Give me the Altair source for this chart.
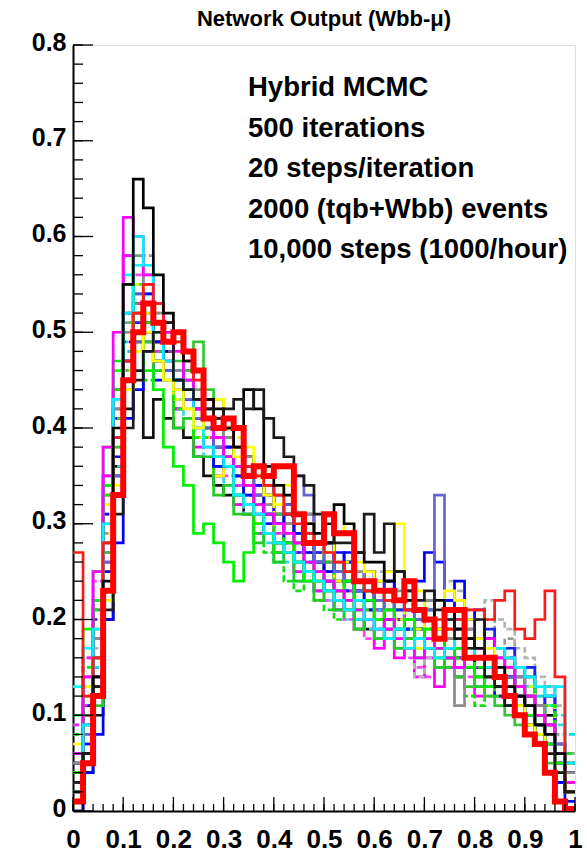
import altair as alt
import pandas as pd

# ---------------- data (50 bins of width 0.02 on [0,1]) ----------------
bin_width = 0.02

black1 = [0.02,0.06,0.14,0.24,0.40,0.55,0.66,0.63,0.56,0.52, 0.50,0.47,0.46,0.43,0.42,0.40,0.38,0.44,0.42,0.36, 0.34,0.33,0.31,0.30,0.29,0.28,0.32,0.30,0.27,0.26, 0.26,0.24,0.25,0.22,0.21,0.20,0.22,0.21,0.19,0.18, 0.17,0.16,0.15,0.13,0.12,0.11,0.09,0.08,0.06,0.02]
gray1 = [0.05,0.10,0.18,0.30,0.42,0.50,0.58,0.55,0.52,0.50, 0.46,0.48,0.44,0.42,0.43,0.39,0.36,0.37,0.34,0.32, 0.33,0.30,0.29,0.31,0.28,0.27,0.26,0.24,0.25,0.23, 0.22,0.21,0.23,0.24,0.20,0.22,0.19,0.18,0.11,0.19, 0.18,0.16,0.17,0.15,0.14,0.12,0.11,0.09,0.07,0.04]
blue1 = [0.01,0.07,0.13,0.25,0.37,0.47,0.50,0.54,0.49,0.46, 0.45,0.43,0.42,0.40,0.36,0.38,0.35,0.33,0.34,0.31, 0.30,0.31,0.29,0.27,0.26,0.25,0.27,0.24,0.23,0.22, 0.24,0.25,0.22,0.21,0.24,0.27,0.26,0.22,0.24,0.20, 0.21,0.18,0.15,0.14,0.12,0.10,0.09,0.07,0.03,0.01]
slate1 = [0.03,0.08,0.16,0.26,0.35,0.44,0.49,0.48,0.47,0.46, 0.44,0.43,0.41,0.40,0.38,0.37,0.36,0.35,0.33,0.34, 0.33,0.31,0.35,0.33,0.26,0.27,0.25,0.24,0.23,0.23, 0.22,0.21,0.22,0.21,0.20,0.21,0.33,0.20,0.19,0.18, 0.17,0.16,0.15,0.14,0.13,0.12,0.10,0.09,0.07,0.03]
green1 = [0.04,0.12,0.22,0.34,0.47,0.55,0.50,0.46,0.44,0.38, 0.36,0.34,0.29,0.30,0.28,0.26,0.24,0.27,0.30,0.29, 0.27,0.28,0.26,0.24,0.25,0.23,0.22,0.24,0.21,0.22, 0.20,0.21,0.19,0.20,0.18,0.19,0.17,0.16,0.17,0.15, 0.14,0.13,0.14,0.12,0.11,0.10,0.08,0.07,0.05,0.02]
magenta1 = [0.06,0.14,0.25,0.38,0.50,0.62,0.60,0.56,0.53,0.50, 0.48,0.45,0.42,0.41,0.39,0.37,0.36,0.34,0.32,0.31, 0.30,0.29,0.28,0.26,0.25,0.24,0.23,0.22,0.21,0.20, 0.19,0.20,0.18,0.17,0.16,0.18,0.17,0.16,0.15,0.16, 0.17,0.18,0.16,0.15,0.13,0.12,0.10,0.09,0.06,0.03]
cyan1 = [0.02,0.09,0.19,0.30,0.43,0.52,0.60,0.57,0.50,0.47, 0.45,0.44,0.40,0.38,0.37,0.36,0.33,0.32,0.31,0.29, 0.28,0.27,0.26,0.25,0.24,0.23,0.22,0.21,0.22,0.20, 0.19,0.18,0.19,0.17,0.18,0.17,0.16,0.17,0.18,0.17, 0.16,0.15,0.17,0.16,0.15,0.14,0.13,0.12,0.13,0.05]
yellow1 = [0.01,0.05,0.12,0.22,0.34,0.44,0.48,0.50,0.47,0.45, 0.44,0.42,0.40,0.41,0.43,0.40,0.37,0.38,0.35,0.33, 0.32,0.34,0.31,0.30,0.28,0.27,0.29,0.30,0.26,0.25, 0.24,0.25,0.30,0.22,0.23,0.20,0.19,0.23,0.22,0.20, 0.18,0.17,0.15,0.13,0.11,0.09,0.08,0.06,0.04,0.02]
green2 = [0.03,0.07,0.14,0.27,0.38,0.46,0.53,0.49,0.48,0.49, 0.47,0.46,0.49,0.44,0.41,0.39,0.38,0.36,0.35,0.34, 0.31,0.30,0.29,0.28,0.27,0.26,0.25,0.25,0.24,0.23, 0.22,0.22,0.21,0.20,0.19,0.18,0.17,0.16,0.14,0.13, 0.14,0.12,0.11,0.10,0.09,0.08,0.07,0.05,0.04,0.02]
lgray1 = [0.04,0.09,0.17,0.28,0.38,0.47,0.51,0.50,0.49,0.47, 0.46,0.44,0.42,0.41,0.40,0.38,0.36,0.35,0.33,0.32, 0.31,0.30,0.29,0.28,0.27,0.26,0.25,0.24,0.23,0.24, 0.25,0.23,0.22,0.21,0.14,0.16,0.17,0.24,0.23,0.20, 0.21,0.22,0.20,0.19,0.17,0.16,0.14,0.13,0.11,0.06]
black2 = [0.00,0.04,0.10,0.20,0.33,0.42,0.46,0.39,0.43,0.41, 0.40,0.39,0.37,0.35,0.34,0.33,0.32,0.31,0.30,0.29, 0.28,0.27,0.26,0.25,0.24,0.23,0.22,0.21,0.20,0.19, 0.20,0.19,0.18,0.19,0.18,0.20,0.19,0.18,0.17,0.16, 0.15,0.14,0.13,0.12,0.10,0.09,0.07,0.04,0.03,0.03]
blue2 = [0.05,0.11,0.20,0.31,0.41,0.49,0.53,0.51,0.48,0.47, 0.46,0.43,0.41,0.40,0.39,0.36,0.34,0.33,0.32,0.30, 0.30,0.28,0.28,0.26,0.26,0.24,0.23,0.23,0.22,0.21, 0.21,0.20,0.19,0.19,0.18,0.17,0.17,0.16,0.15,0.15, 0.14,0.13,0.12,0.11,0.10,0.09,0.08,0.07,0.06,0.04]
red2 = [0.27,0.12,0.16,0.28,0.39,0.47,0.52,0.55,0.53,0.51, 0.49,0.47,0.45,0.43,0.41,0.40,0.38,0.36,0.35,0.34, 0.33,0.31,0.30,0.29,0.28,0.27,0.26,0.25,0.24,0.23, 0.23,0.22,0.22,0.21,0.21,0.20,0.20,0.19,0.20,0.21, 0.21,0.20,0.22,0.23,0.19,0.18,0.20,0.23,0.14,0.02]
purple1 = [0.02,0.06,0.15,0.27,0.39,0.48,0.52,0.51,0.50,0.48, 0.45,0.44,0.43,0.42,0.38,0.37,0.35,0.34,0.33,0.31, 0.30,0.29,0.28,0.27,0.26,0.25,0.24,0.23,0.22,0.21, 0.21,0.20,0.20,0.19,0.19,0.18,0.18,0.17,0.16,0.15, 0.15,0.14,0.13,0.12,0.11,0.10,0.08,0.07,0.05,0.02]
magenta2 = [0.08,0.16,0.24,0.35,0.44,0.52,0.56,0.53,0.51,0.47, 0.44,0.43,0.40,0.38,0.36,0.35,0.33,0.32,0.30,0.29, 0.28,0.27,0.26,0.24,0.23,0.22,0.21,0.20,0.19,0.18, 0.17,0.18,0.17,0.16,0.15,0.14,0.15,0.16,0.15,0.14, 0.16,0.17,0.15,0.14,0.12,0.11,0.10,0.08,0.07,0.04]
cyan2 = [0.09,0.13,0.21,0.32,0.42,0.49,0.54,0.52,0.49,0.46, 0.43,0.41,0.39,0.37,0.35,0.34,0.32,0.31,0.30,0.28, 0.27,0.26,0.25,0.24,0.23,0.22,0.21,0.20,0.20,0.19, 0.19,0.18,0.18,0.17,0.17,0.16,0.16,0.15,0.16,0.15, 0.17,0.16,0.15,0.14,0.13,0.12,0.11,0.10,0.09,0.05]
yellow2 = [0.03,0.08,0.17,0.29,0.41,0.50,0.55,0.52,0.49,0.46, 0.45,0.46,0.43,0.39,0.38,0.37,0.39,0.36,0.33,0.32, 0.31,0.30,0.29,0.28,0.27,0.27,0.26,0.25,0.24,0.23, 0.22,0.23,0.21,0.20,0.19,0.20,0.19,0.20,0.18,0.17, 0.16,0.17,0.16,0.14,0.13,0.11,0.09,0.08,0.06,0.03]
green3 = [0.06,0.10,0.19,0.31,0.44,0.52,0.49,0.45,0.46,0.48, 0.49,0.46,0.44,0.40,0.37,0.36,0.33,0.32,0.29,0.27, 0.26,0.24,0.23,0.25,0.22,0.21,0.20,0.21,0.19,0.20, 0.19,0.18,0.17,0.18,0.19,0.17,0.16,0.15,0.14,0.12, 0.11,0.12,0.13,0.11,0.10,0.08,0.09,0.07,0.05,0.03]
black3 = [0.03,0.06,0.13,0.21,0.31,0.40,0.45,0.48,0.50,0.51, 0.45,0.44,0.43,0.42,0.41,0.42,0.43,0.42,0.44,0.41, 0.39,0.37,0.35,0.34,0.31,0.30,0.28,0.28,0.27,0.31, 0.27,0.30,0.25,0.23,0.22,0.23,0.21,0.20,0.18,0.17, 0.20,0.14,0.13,0.11,0.10,0.08,0.07,0.06,0.04,0.02]
green4 = [0.10,0.19,0.25,0.38,0.46,0.58,0.55,0.53,0.48,0.49, 0.43,0.44,0.39,0.40,0.35,0.37,0.33,0.35,0.30,0.31, 0.28,0.30,0.26,0.28,0.25,0.26,0.23,0.25,0.21,0.23, 0.20,0.22,0.19,0.21,0.17,0.19,0.16,0.18,0.15,0.18, 0.15,0.16,0.13,0.15,0.12,0.13,0.10,0.11,0.07,0.05]
blue3 = [0.00,0.04,0.08,0.20,0.28,0.41,0.44,0.49,0.45,0.47, 0.42,0.44,0.39,0.41,0.36,0.38,0.33,0.36,0.31,0.33, 0.28,0.31,0.27,0.31,0.26,0.28,0.24,0.27,0.23,0.25, 0.21,0.24,0.20,0.22,0.19,0.21,0.18,0.22,0.19,0.20, 0.16,0.18,0.15,0.16,0.12,0.13,0.09,0.10,0.05,0.04]
cyan3 = [0.13,0.17,0.22,0.35,0.43,0.56,0.57,0.56,0.50,0.49, 0.45,0.46,0.40,0.41,0.36,0.37,0.32,0.33,0.29,0.30, 0.26,0.28,0.24,0.26,0.23,0.25,0.21,0.23,0.20,0.22, 0.18,0.20,0.17,0.19,0.16,0.18,0.15,0.17,0.14,0.16, 0.13,0.15,0.12,0.14,0.11,0.13,0.09,0.11,0.06,0.05]
magenta3 = [0.04,0.11,0.18,0.35,0.44,0.58,0.53,0.51,0.47,0.46, 0.42,0.43,0.38,0.39,0.35,0.36,0.32,0.34,0.29,0.30, 0.27,0.28,0.25,0.27,0.23,0.24,0.21,0.23,0.19,0.21, 0.17,0.19,0.16,0.18,0.14,0.16,0.13,0.15,0.14,0.16, 0.12,0.15,0.12,0.13,0.10,0.12,0.08,0.09,0.05,0.04]
yellow3 = [0.07,0.13,0.19,0.32,0.41,0.50,0.51,0.55,0.49,0.48, 0.43,0.44,0.39,0.40,0.35,0.37,0.33,0.34,0.30,0.32, 0.28,0.30,0.26,0.28,0.24,0.26,0.23,0.25,0.21,0.23, 0.20,0.22,0.18,0.20,0.17,0.19,0.16,0.18,0.15,0.17, 0.14,0.16,0.12,0.14,0.11,0.12,0.09,0.10,0.06,0.05]
gray2 = [0.02,0.08,0.15,0.29,0.39,0.51,0.54,0.58,0.52,0.51, 0.46,0.47,0.42,0.43,0.38,0.39,0.35,0.37,0.32,0.34, 0.30,0.32,0.28,0.30,0.26,0.28,0.24,0.26,0.23,0.25, 0.21,0.23,0.20,0.22,0.19,0.21,0.18,0.20,0.19,0.21, 0.20,0.20,0.17,0.18,0.14,0.15,0.12,0.13,0.08,0.06]
black4 = [0.05,0.10,0.16,0.28,0.36,0.47,0.49,0.50,0.47,0.48, 0.45,0.46,0.43,0.43,0.39,0.40,0.36,0.37,0.33,0.34, 0.31,0.32,0.29,0.30,0.27,0.28,0.25,0.26,0.23,0.24, 0.22,0.23,0.20,0.22,0.19,0.20,0.18,0.19,0.16,0.18, 0.15,0.16,0.13,0.14,0.11,0.12,0.09,0.10,0.04,0.04]
green5 = [0.02,0.06,0.11,0.25,0.35,0.46,0.50,0.51,0.46,0.45, 0.40,0.41,0.37,0.37,0.33,0.34,0.31,0.31,0.28,0.29, 0.26,0.27,0.24,0.25,0.22,0.24,0.21,0.22,0.19,0.21, 0.18,0.20,0.17,0.18,0.16,0.17,0.15,0.16,0.14,0.15, 0.13,0.14,0.12,0.13,0.10,0.11,0.08,0.09,0.06,0.05]
slate2 = [0.06,0.14,0.21,0.34,0.42,0.52,0.54,0.54,0.49,0.50, 0.46,0.46,0.42,0.42,0.39,0.39,0.36,0.36,0.33,0.34, 0.31,0.32,0.29,0.30,0.27,0.28,0.25,0.26,0.23,0.25, 0.22,0.23,0.21,0.22,0.19,0.21,0.18,0.20,0.17,0.19, 0.16,0.18,0.15,0.16,0.13,0.14,0.11,0.12,0.07,0.06]
cyan4 = [0.03,0.09,0.15,0.27,0.36,0.48,0.52,0.52,0.47,0.47, 0.43,0.44,0.41,0.41,0.37,0.38,0.34,0.35,0.32,0.33, 0.30,0.31,0.28,0.29,0.26,0.27,0.25,0.26,0.23,0.24, 0.21,0.23,0.20,0.22,0.19,0.21,0.18,0.20,0.17,0.18, 0.17,0.18,0.15,0.17,0.14,0.15,0.12,0.13,0.10,0.08]
magenta4 = [0.09,0.16,0.22,0.33,0.40,0.50,0.53,0.53,0.48,0.47, 0.44,0.44,0.40,0.40,0.37,0.37,0.34,0.34,0.31,0.32, 0.29,0.30,0.27,0.28,0.25,0.26,0.23,0.25,0.22,0.23, 0.21,0.22,0.19,0.21,0.18,0.20,0.17,0.19,0.16,0.18, 0.17,0.18,0.15,0.16,0.13,0.14,0.11,0.12,0.07,0.05]
blue4 = [0.03,0.09,0.14,0.26,0.35,0.47,0.51,0.53,0.49,0.49, 0.45,0.45,0.41,0.41,0.38,0.38,0.35,0.36,0.32,0.33, 0.30,0.31,0.28,0.29,0.27,0.28,0.25,0.26,0.24,0.25, 0.22,0.24,0.21,0.23,0.20,0.22,0.19,0.21,0.20,0.20, 0.18,0.19,0.16,0.17,0.14,0.15,0.10,0.12,0.06,0.05]
yellow4 = [0.02,0.07,0.13,0.25,0.34,0.46,0.49,0.52,0.47,0.47, 0.43,0.44,0.40,0.41,0.37,0.38,0.35,0.35,0.32,0.33, 0.30,0.31,0.28,0.29,0.26,0.27,0.24,0.26,0.23,0.24, 0.22,0.23,0.20,0.22,0.19,0.21,0.18,0.19,0.17,0.18, 0.16,0.17,0.14,0.16,0.12,0.13,0.09,0.11,0.06,0.05]
green6 = [0.08,0.15,0.21,0.33,0.41,0.51,0.52,0.51,0.47,0.46, 0.42,0.42,0.39,0.39,0.36,0.36,0.33,0.34,0.30,0.31, 0.28,0.29,0.26,0.27,0.24,0.26,0.23,0.24,0.21,0.23, 0.20,0.21,0.19,0.20,0.18,0.19,0.17,0.18,0.16,0.17, 0.15,0.16,0.14,0.15,0.12,0.14,0.10,0.11,0.07,0.06]

red_main = [0.01,0.05,0.12,0.23,0.33, 0.45,0.50,0.53,0.51,0.49, 0.50,0.48,0.46,0.41,0.40, 0.41,0.40,0.35,0.36,0.35, 0.36,0.36,0.31,0.28,0.28, 0.31,0.29,0.29,0.24,0.24, 0.23,0.23,0.22,0.24,0.21, 0.20,0.18,0.21,0.21,0.16, 0.16,0.16,0.14,0.12,0.10, 0.08,0.07,0.04,0.01,0.002]

# drawing order (first = bottom), colour and dash style of each thin histogram
series = [
    ("green4", green4, "#00ff00", False), ("black2", black2, "#111111", False),
    ("blue3", blue3, "#0000ff", False), ("cyan2", cyan2, "#30d8ea", True),
    ("cyan3", cyan3, "#00ffff", False), ("magenta2", magenta2, "#ff40ff", True),
    ("magenta3", magenta3, "#ff00ff", False), ("yellow2", yellow2, "#f0f000", True),
    ("yellow3", yellow3, "#ffff00", False), ("gray2", gray2, "#999999", True),
    ("green3", green3, "#10dd10", True), ("black4", black4, "#000000", False),
    ("purple1", purple1, "#8a3ad8", True), ("green5", green5, "#22cc22", False),
    ("blue2", blue2, "#1010e0", True), ("slate2", slate2, "#5954d8", False),
    ("lgray1", lgray1, "#b4b4b4", True), ("cyan4", cyan4, "#00e0e0", True),
    ("green2", green2, "#33c833", False), ("magenta4", magenta4, "#ee22ee", True),
    ("blue4", blue4, "#2020f0", False), ("yellow4", yellow4, "#f5f500", True),
    ("green6", green6, "#00ee00", True), ("gray1", gray1, "#8c8c8c", False),
    ("blue1", blue1, "#0000ff", False), ("slate1", slate1, "#6464d2", False),
    ("green1", green1, "#00f000", False), ("magenta1", magenta1, "#ff00ff", False),
    ("cyan1", cyan1, "#00f0ff", False), ("yellow1", yellow1, "#ffff00", False),
    ("red2", red2, "#ff1a1a", False), ("black1", black1, "#000000", False),
    ("black3", black3, "#1a1a1a", False),
]

x_major_ticks = [0.0,0.1,0.2,0.3,0.4,0.5,0.6,0.7,0.8,0.9,1.0]
x_minor_ticks = [round(i*0.02, 2) for i in range(51)]
y_major_ticks = [0.0,0.1,0.2,0.3,0.4,0.5,0.6,0.7,0.8]
y_minor_ticks = [round(i*0.02, 2) for i in range(41)]

title_text = "Network Output (Wbb-\u03bc)"
info_lines = ["Hybrid MCMC", "500 iterations", "20 steps/iteration",
              "2000 (tqb+Wbb) events", "10,000 steps (1000/hour)"]

# ---------------- build tables ----------------
def step_rows(name, vals, k=0):
    rows = []
    for i, v in enumerate(vals):
        rows.append({"s": name, "k": k, "x": round(i*bin_width, 4), "y": v, "o": i})
    rows.append({"s": name, "k": k, "x": 1.0, "y": vals[-1], "o": len(vals)})
    return rows

thin_rows = []
for k, (n, v, c, d) in enumerate(series):
    thin_rows += step_rows(n, v, k)
thin_df = pd.DataFrame(thin_rows)
red_df = pd.DataFrame(step_rows("red", red_main))

names = [s[0] for s in series]
colors = [s[2] for s in series]
dashes = [[6, 3] if s[3] else [1, 0] for s in series]

W, H = 502, 766
FONT = "Liberation Sans"
xs = alt.Scale(domain=[0, 1], nice=False, zero=False)
ys = alt.Scale(domain=[0, 0.8], nice=False, zero=False)
xax = alt.Axis(values=x_major_ticks, ticks=False, domain=True, domainColor="#000", domainWidth=2,
               grid=False, labelFontSize=26, labelFont=FONT, labelFontWeight="bold", labelColor="#000",
               labelPadding=15, labelFlush=False, labelOverlap=False,
               labelExpr="datum.value == 0 ? '0' : datum.value == 1 ? '1' : format(datum.value, '.1f')")
yax = alt.Axis(values=y_major_ticks, ticks=False, domain=True, domainColor="#000", domainWidth=2,
               grid=False, labelFontSize=25, labelFont=FONT, labelFontWeight="bold", labelColor="#000",
               labelPadding=7, labelFlush=False, labelOverlap=False, labelOffset=-3,
               labelExpr="datum.value == 0 ? '0' : format(datum.value, '.1f')")

thin = alt.Chart(thin_df).mark_line(interpolate="step-after", strokeWidth=2.7, clip=True).encode(
    x=alt.X("x:Q", scale=xs, axis=xax, title=None),
    y=alt.Y("y:Q", scale=ys, axis=yax, title=None),
    color=alt.Color("s:N", scale=alt.Scale(domain=names, range=colors), legend=None),
    strokeDash=alt.StrokeDash("s:N", scale=alt.Scale(domain=names, range=dashes), legend=None),
    detail="k:O",
    order="o:Q",
)
red = alt.Chart(red_df).mark_line(interpolate="step-after", strokeWidth=6, color="#ff0000", clip=True).encode(
    x=alt.X("x:Q", scale=xs, axis=xax, title=None),
    y=alt.Y("y:Q", scale=ys, axis=yax, title=None),
    order="o:Q",
)

xmaj = alt.Chart(pd.DataFrame({"v": x_major_ticks})).mark_rule(color="#000", strokeWidth=1.3).encode(
    x=alt.X("v:Q", scale=xs, axis=xax, title=None), y=alt.value(H), y2=alt.value(H - 14))
xmin = alt.Chart(pd.DataFrame({"v": x_minor_ticks})).mark_rule(color="#000", strokeWidth=1.3).encode(
    x=alt.X("v:Q", scale=xs, axis=xax, title=None), y=alt.value(H), y2=alt.value(H - 7))
ymaj = alt.Chart(pd.DataFrame({"v": y_major_ticks})).mark_rule(color="#000", strokeWidth=1.3).encode(
    y=alt.Y("v:Q", scale=ys, axis=yax, title=None), x=alt.value(0), x2=alt.value(20))
ymin = alt.Chart(pd.DataFrame({"v": y_minor_ticks})).mark_rule(color="#000", strokeWidth=1.3).encode(
    y=alt.Y("v:Q", scale=ys, axis=yax, title=None), x=alt.value(0), x2=alt.value(10))

title_mark = alt.Chart(pd.DataFrame({"t": [title_text]})).mark_text(
    align="center", baseline="middle", font=FONT, fontWeight="bold", fontSize=22, color="#000"
).encode(text="t:N", x=alt.value(W / 2), y=alt.value(-26))

texts = []
for i, line in enumerate(info_lines):
    texts.append(alt.Chart(pd.DataFrame({"t": [line]})).mark_text(
        align="left", baseline="middle", font=FONT, fontWeight="bold", fontSize=27.5, color="#000"
    ).encode(text="t:N", x=alt.value(175), y=alt.value(43 + i * 40.5)))

chart = alt.layer(thin, red, xmin, xmaj, ymin, ymaj, title_mark, *texts).properties(
    width=W, height=H,
    autosize=alt.AutoSizeParams(type="none"),
    padding={"left": 73, "top": 45, "right": 12, "bottom": 44},
).configure_view(stroke="#333", strokeWidth=2).configure(background="white")

chart.save("out.html", embed_options={"renderer": "svg", "actions": False})
